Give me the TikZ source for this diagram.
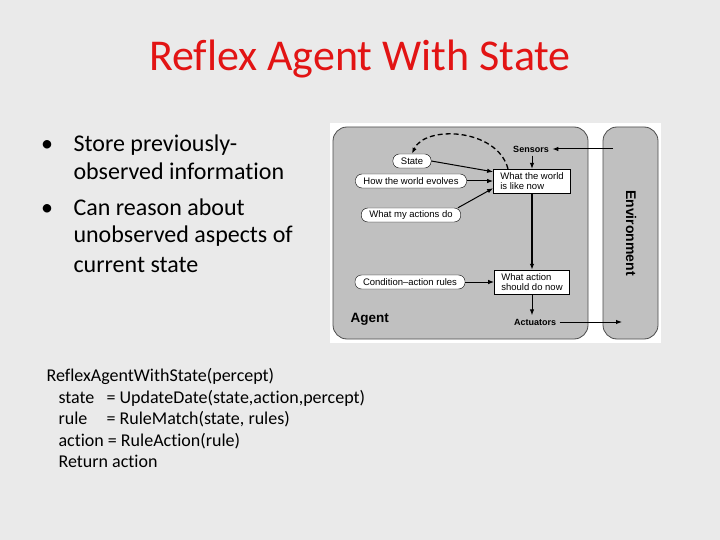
\documentclass[tikz,border=0pt]{standalone}
\usepackage{fontspec}
\setmainfont{Carlito}[Ligatures=NoCommon]
\newfontfamily\diafont{Liberation Sans}
\usetikzlibrary{arrows.meta,positioning}

\definecolor{slidebg}{RGB}{234,234,234}
\definecolor{titlered}{RGB}{226,20,20}
\definecolor{panelgray}{RGB}{192,192,192}

\begin{document}
\begin{tikzpicture}[
    x=1pt, y=-1pt,
    panel/.style={draw=black!70, fill=panelgray, rounded corners=14pt, line width=0.8pt},
    oval/.style={
        draw,
        fill=white,
        rounded corners=6.5pt,
        minimum height=14pt,
        inner xsep=8pt,
        inner ysep=1pt,
        font=\diafont\fontsize{9.5}{10}\selectfont
    },
    box/.style={
        draw,
        fill=white,
        minimum height=24pt,
        inner xsep=7pt,
        inner ysep=1.5pt,
        align=left,
        font=\diafont\fontsize{9.5}{10.5}\selectfont
    },
    port/.style={font=\diafont\bfseries\fontsize{9}{10}\selectfont},
    arrow/.style={-{Latex[length=6pt,width=4.5pt]}, line width=1pt},
    bulletline/.style={anchor=base west, font=\fontsize{24}{28}\selectfont},
    codeline/.style={anchor=base west, font=\fontsize{18}{21}\selectfont}
]
\fill[slidebg] (0,0) rectangle (720,540);

\node[anchor=base, text=titlered, font=\fontsize{44}{52}\selectfont] (title) at (360,71) {Reflex Agent With State};

\node[anchor=base, font=\fontsize{24}{28}\selectfont] (dot1) at (47,152) {\textbullet};
\node[bulletline] (store1) at (70,152) {Store previously-};
\node[bulletline] (store2) at (70,180) {observed information};
\node[anchor=base, font=\fontsize{24}{28}\selectfont] (dot2) at (47,215) {\textbullet};
\node[bulletline] (reason1) at (70,215) {Can reason about};
\node[bulletline] (reason2) at (70,243) {unobserved aspects of};
\node[bulletline] (reason3) at (70,272) {current state};

\node[codeline] (code1) at (43,381) {ReflexAgentWithState(percept)};
\node[codeline] (code2) at (55,403) {\makebox[48pt][l]{state}= UpdateDate(state,action,percept)};
\node[codeline] (code3) at (55,424) {\makebox[48pt][l]{rule}= RuleMatch(state, rules)};
\node[codeline] (code4) at (55,446) {action = RuleAction(rule)};
\node[codeline] (code5) at (55,467) {Return action};

\fill[white] (330,123) rectangle (661,343);
\draw[panel] (333,127) rectangle (588,339);
\draw[panel] (603,127) rectangle (658,339);

\node[rotate=-90, font=\diafont\bfseries\fontsize{14}{14}\selectfont] (envlabel) at (631,233) {Environment};
\node[anchor=base west, font=\diafont\bfseries\fontsize{13.5}{14}\selectfont] (agent) at (347,322) {Agent};

\node[box] (world) at (532,181) {What the world\\is like now};
\node[box] (decide) at (532,282) {What action\\should do now};
\node[oval] (state) at (412,161) {State};
\node[oval] (evolve) at (411,181) {How the world evolves};
\node[oval] (effect) at (411,215) {What my actions do};
\node[oval] (rules) at (410,282) {Condition–action rules};
\node[port] (sensors) at (531,149) {Sensors};
\node[port] (actuators) at (535,322) {Actuators};
\coordinate (envin) at (613,149);
\coordinate (envout) at (622,322);

\draw[arrow] (envin) -- (sensors);
\draw[arrow] (sensors.south -| world) -- (world);
\draw[arrow] (state.east) -- ([yshift=-3pt]world.north west);
\draw[arrow] (evolve) -- (evolve -| world.west);
\draw[arrow] ([xshift=-3pt]effect.north east) -- ([yshift=5pt]world.south west);
\draw[arrow, line width=1.3pt] (world) -- (decide);
\draw[arrow] (rules) -- (decide);
\draw[arrow] (decide) -- (decide |- actuators.north);
\draw[arrow] (actuators) -- (envout);
\draw[arrow, line width=1.3pt, dash pattern=on 5pt off 3pt] ([xshift=-24pt]world.north) .. controls (497,128) and (425,125) .. (state.north);
\end{tikzpicture}
\end{document}
